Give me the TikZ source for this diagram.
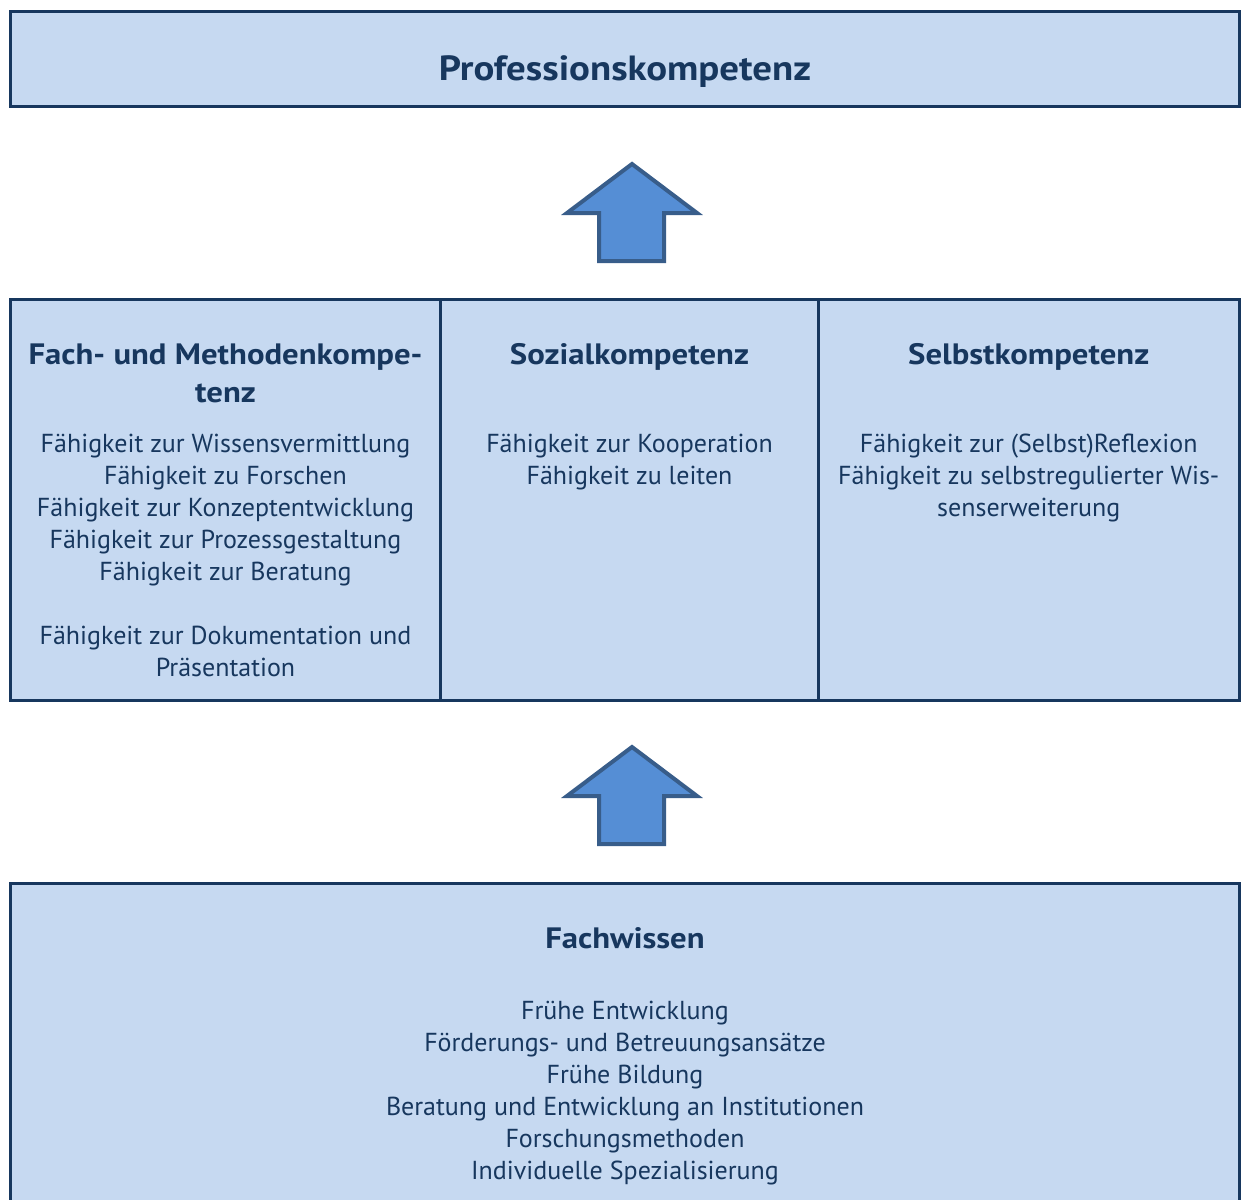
\documentclass[tikz,border=0pt]{standalone}
\usepackage{fontspec}
\setmainfont{PT Sans}
\newfontfamily\headfont{PT Sans}[FakeStretch=1.11]
\definecolor{boxfill}{HTML}{C6D9F1}
\definecolor{boxline}{HTML}{17375E}
\definecolor{txt}{HTML}{17375E}
\definecolor{arrfill}{HTML}{558ED5}
\definecolor{arrline}{HTML}{385D8A}
\tikzset{
  box/.style={draw=boxline, fill=boxfill, line width=3pt, inner sep=0pt},
  bodytxt/.style={anchor=base, inner sep=0pt, text=txt, font=\fontsize{26}{30}\selectfont},
  headtxt/.style={anchor=base, inner sep=0pt, text=txt, font=\headfont\fontsize{29.5}{34}\selectfont\bfseries},
  titletxt/.style={anchor=base, inner sep=0pt, text=txt, font=\headfont\fontsize{35}{40}\selectfont\bfseries},
  bigarrow/.style={draw=arrline, fill=arrfill, line width=4pt, line join=miter}
}
\begin{document}
\begin{tikzpicture}[x=1pt,y=-1pt]
\useasboundingbox (0,0) rectangle (1243,1200);
\fill[white] (0,0) rectangle (1243,1200);
% top box
\node[box, minimum width=1228.5pt, minimum height=95pt] (top) at (624.75,59) {};
\node[titletxt] (ttl) at (625,80) {Professionskompetenz};
% arrow 1
\draw[bigarrow] (632,164) coordinate (a1tip) -- (567,213) -- (599,213) -- (599,261) -- (664,261) -- (664,213) -- (697,213) -- cycle;
% middle boxes
\node[box, minimum width=430pt, minimum height=400.5pt] (fm) at (225.5,499.75) {};
\node[box, minimum width=378pt, minimum height=400.5pt] (soz) at (629.5,499.75) {};
\node[box, minimum width=420.5pt, minimum height=400.5pt] (selbst) at (1028.75,499.75) {};
\node[headtxt] (h1a) at (225.5,364) {Fach- und Methodenkompe-};
\node[headtxt] (h1b) at (225.5,402) {tenz};
\node[headtxt] (h2) at (629.5,364) {Sozialkompetenz};
\node[headtxt] (h3) at (1028.75,364) {Selbstkompetenz};
\node[bodytxt] (f1) at (225.5,452) {Fähigkeit zur Wissensvermittlung};
\node[bodytxt] (f2) at (225.5,484) {Fähigkeit zu Forschen};
\node[bodytxt] (f3) at (225.5,516) {Fähigkeit zur Konzeptentwicklung};
\node[bodytxt] (f4) at (225.5,548) {Fähigkeit zur Prozessgestaltung};
\node[bodytxt] (f5) at (225.5,580) {Fähigkeit zur Beratung};
\node[bodytxt] (f6) at (225.5,644) {Fähigkeit zur Dokumentation und};
\node[bodytxt] (f7) at (225.5,676) {Präsentation};
\node[bodytxt] (s1) at (629.5,452) {Fähigkeit zur Kooperation};
\node[bodytxt] (s2) at (629.5,484) {Fähigkeit zu leiten};
\node[bodytxt] (e1) at (1028.75,452) {Fähigkeit zur (Selbst)Reflexion};
\node[bodytxt] (e2) at (1028.75,484) {Fähigkeit zu selbstregulierter Wis-};
\node[bodytxt] (e3) at (1028.75,516) {senserweiterung};
% arrow 2
\draw[bigarrow] (632,747) coordinate (a2tip) -- (567,796) -- (599,796) -- (599,844) -- (664,844) -- (664,796) -- (697,796) -- cycle;
% bottom box
\node[box, minimum width=1228.5pt, minimum height=340pt] (fw) at (624.75,1053.5) {};
\node[headtxt] (h4) at (625,948) {Fachwissen};
\node[bodytxt] (w1) at (625,1019) {Frühe Entwicklung};
\node[bodytxt] (w2) at (625,1051) {Förderungs- und Betreuungsansätze};
\node[bodytxt] (w3) at (625,1083) {Frühe Bildung};
\node[bodytxt] (w4) at (625,1115) {Beratung und Entwicklung an Institutionen};
\node[bodytxt] (w5) at (625,1147) {Forschungsmethoden};
\node[bodytxt] (w6) at (625,1179) {Individuelle Spezialisierung};
\end{tikzpicture}
\end{document}
